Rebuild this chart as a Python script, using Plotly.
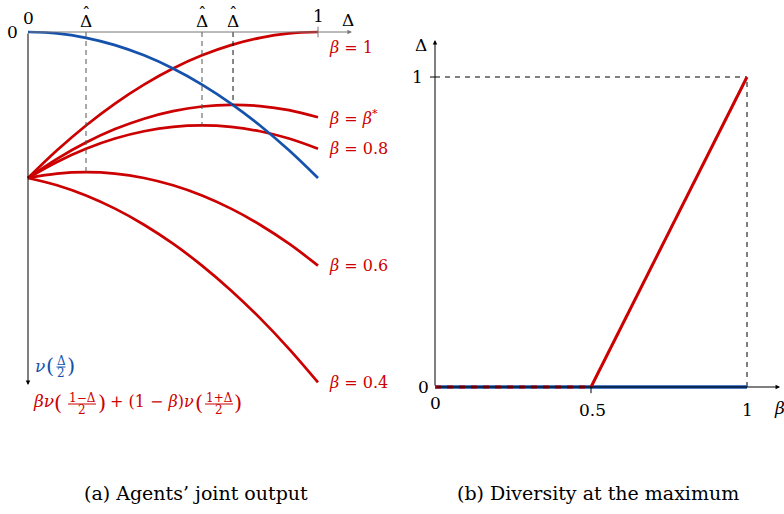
import plotly.graph_objects as go

W, H = 784, 514
RED = "#cc0000"
BLUE = "#1552ad"
FONT = "DejaVu Serif"

# ---------------- data: left panel ----------------
delta_grid = [0.0, 0.1, 0.2, 0.3, 0.4, 0.5, 0.6, 0.7, 0.8, 0.9, 1.0]
blue_curve = [0.0, -0.0025, -0.01, -0.0225, -0.04, -0.0625, -0.09, -0.1225, -0.16, -0.2025, -0.25]
beta_labels = ["1", "β*", "0.8", "0.6", "0.4"]
red_curves = [
    [-0.25, -0.2025, -0.16, -0.1225, -0.09, -0.0625, -0.04, -0.0225, -0.01, -0.0025, 0.0],
    [-0.25, -0.2171, -0.1892, -0.1663, -0.1484, -0.1355, -0.1276, -0.1247, -0.1268, -0.1339, -0.146],
    [-0.25, -0.2225, -0.2, -0.1825, -0.17, -0.1625, -0.16, -0.1625, -0.17, -0.1825, -0.2],
    [-0.25, -0.2425, -0.24, -0.2425, -0.25, -0.2625, -0.28, -0.3025, -0.33, -0.3625, -0.4],
    [-0.25, -0.2625, -0.28, -0.3025, -0.33, -0.3625, -0.4, -0.4425, -0.49, -0.5425, -0.6],
]
delta_hat = [0.2, 0.6, 0.707]
peak_value = [-0.24, -0.16, -0.125]
hat_colors = ["#555555", "#555555", "#111111"]

# ---------------- data: right panel ----------------
beta_pts = [0.0, 0.5, 1.0]
delta_max = [0.0, 0.0, 1.0]
blue_flat = [0.0, 0.0, 0.0]

fig = go.Figure()

# left: curves
for ys in red_curves:
    fig.add_trace(go.Scatter(x=delta_grid, y=ys, mode="lines", line=dict(color=RED, width=2.7, shape="spline"),
                             xaxis="x", yaxis="y", hoverinfo="skip"))
fig.add_trace(go.Scatter(x=delta_grid, y=blue_curve, mode="lines", line=dict(color=BLUE, width=2.7, shape="spline"),
                         xaxis="x", yaxis="y", hoverinfo="skip"))
for dh, pv, c in zip(delta_hat, peak_value, hat_colors):
    fig.add_trace(go.Scatter(x=[dh, dh], y=[0, pv], mode="lines", line=dict(color=c, width=1, dash="5px,4px"),
                             xaxis="x", yaxis="y", hoverinfo="skip"))

# right: lines
fig.add_trace(go.Scatter(x=[beta_pts[2], beta_pts[2]], y=[0, delta_max[2]], mode="lines",
                         line=dict(color="black", width=1, dash="5px,5px"), xaxis="x2", yaxis="y2", hoverinfo="skip"))
fig.add_trace(go.Scatter(x=[0, beta_pts[2]], y=[delta_max[2], delta_max[2]], mode="lines",
                         line=dict(color="black", width=1, dash="5px,5px"), xaxis="x2", yaxis="y2", hoverinfo="skip"))
fig.add_trace(go.Scatter(x=beta_pts, y=blue_flat, mode="lines", line=dict(color=BLUE, width=3.5),
                         xaxis="x2", yaxis="y2", hoverinfo="skip"))
fig.add_trace(go.Scatter(x=beta_pts[1:], y=delta_max[1:], mode="lines", line=dict(color=RED, width=3),
                         xaxis="x2", yaxis="y2", hoverinfo="skip"))
fig.add_trace(go.Scatter(x=beta_pts[:2], y=delta_max[:2], mode="lines", line=dict(color=RED, width=3, dash="6px,6px"),
                         xaxis="x2", yaxis="y2", hoverinfo="skip"))

ann = []
shapes = []


def T(text, x, y, size=17, color="black", xanchor="center", yanchor="middle"):
    ann.append(dict(text=text, x=x / W, y=1 - y / H, xref="paper", yref="paper", showarrow=False,
                    xanchor=xanchor, yanchor=yanchor, font=dict(family=FONT, size=size, color=color)))


def arrow(x0, y0, x1, y1, xr, yr, color="black"):
    ann.append(dict(x=x1, y=y1, ax=x0, ay=y0, xref=xr, yref=yr, axref=xr, ayref=yr, text="",
                    showarrow=True, arrowhead=2, arrowsize=0.9, arrowwidth=1, arrowcolor=color))


def seg(x0, y0, x1, y1, xr, yr, color="black", width=1):
    shapes.append(dict(type="line", x0=x0, y0=y0, x1=x1, y1=y1, xref=xr, yref=yr,
                       line=dict(color=color, width=width)))


def frac(num, den, x, y, color, w, dy=6):
    T(num, x, y - dy, size=12, color=color)
    T(den, x, y + dy, size=12, color=color)
    shapes.append(dict(type="line", x0=(x - w / 2) / W, x1=(x + w / 2) / W, y0=1 - y / H, y1=1 - y / H,
                       xref="paper", yref="paper", line=dict(color=color, width=1)))


# left axes
arrow(0, 0, 1.117, 0, "x", "y", color="#777777")
arrow(0, 0, 0, -0.6045, "x", "y")
seg(1, 0.009, 1, -0.009, "x", "y", color="#777777")

# left tick labels
T("0", 12, 32)
T("0", 28, 18)
for dh in delta_hat:
    ann.append(dict(text="Δ", x=dh, y=0, xref="x", yref="y", yshift=11, showarrow=False,
                    font=dict(family=FONT, size=17, color="black")))
    ann.append(dict(text="ˆ", x=dh, y=0, xref="x", yref="y", yshift=19, showarrow=False,
                    font=dict(family=FONT, size=17, color="black")))
T("1", 318, 16)
T("Δ", 348, 20)

# beta labels
for lab, ys in zip(beta_labels, red_curves):
    if lab == "β*":
        txt = "<i>β</i> = <i>β</i><sup>*</sup>"
    else:
        txt = "<i>β</i> = " + lab
    ann.append(dict(text=txt, x=delta_grid[-1], y=ys[-1], xref="x", yref="y", xanchor="left", yanchor="middle",
                    xshift=9, yshift=-15 if lab == "1" else 0, showarrow=False,
                    font=dict(family=FONT, size=16, color=RED)))

# formula labels
T("<i>ν</i>", 40, 366, size=17, color=BLUE)
T("(", 50, 366, size=21, color=BLUE)
frac("Δ", "2", 61, 367, BLUE, 9)
T(")", 71, 366, size=21, color=BLUE)

T("<i>βν</i>", 43, 401, size=17, color=RED)
T("(", 58, 403, size=21, color=RED)
frac("1−Δ", "2", 82, 404, RED, 28)
T(")", 102, 403, size=21, color=RED)
T("+ (1 − <i>β</i>)<i>ν</i>", 152, 401, size=16, color=RED)
T("(", 199, 403, size=21, color=RED)
frac("1+Δ", "2", 219, 404, RED, 28)
T(")", 238, 403, size=21, color=RED)

# right axes
arrow(0, 0, 1.106, 0, "x2", "y2")
arrow(0, 0, 0, 1.119, "x2", "y2")
seg(-0.016, 1, 0, 1, "x2", "y2")
seg(0.5, 0, 0.5, -0.02, "x2", "y2")

T("Δ", 421, 45)
T("1", 417, 77)
T("0", 423, 387)
T("0", 435, 403)
T("0.5", 592, 410)
T("1", 747, 410)
T("<i>β</i>", 772, 408, xanchor="left")

# captions
T("(a) Agents’ joint output", 196, 493, size=19)
T("(b) Diversity at the maximum", 598, 493, size=19)

ax_common = dict(visible=False, showgrid=False, zeroline=False)
fig.update_layout(
    width=W, height=H, margin=dict(l=0, r=0, t=0, b=0),
    paper_bgcolor="white", plot_bgcolor="rgba(0,0,0,0)", showlegend=False,
    xaxis=dict(domain=[0, 0.5], range=[-28 / 290, -28 / 290 + 392 / 290], **ax_common),
    yaxis=dict(domain=[0, 1], range=[32 / 584 - 514 / 584, 32 / 584], **ax_common),
    xaxis2=dict(domain=[0.5, 1], range=[-43 / 312, -43 / 312 + 392 / 312], **ax_common),
    yaxis2=dict(domain=[0, 1], anchor="x2", range=[-(514 - 387) / 310, 387 / 310], **ax_common),
    annotations=ann, shapes=shapes,
)
fig.write_html("out.html", config={"displayModeBar": False},
               post_script="document.body.style.margin='0';document.body.style.overflow='hidden';")
